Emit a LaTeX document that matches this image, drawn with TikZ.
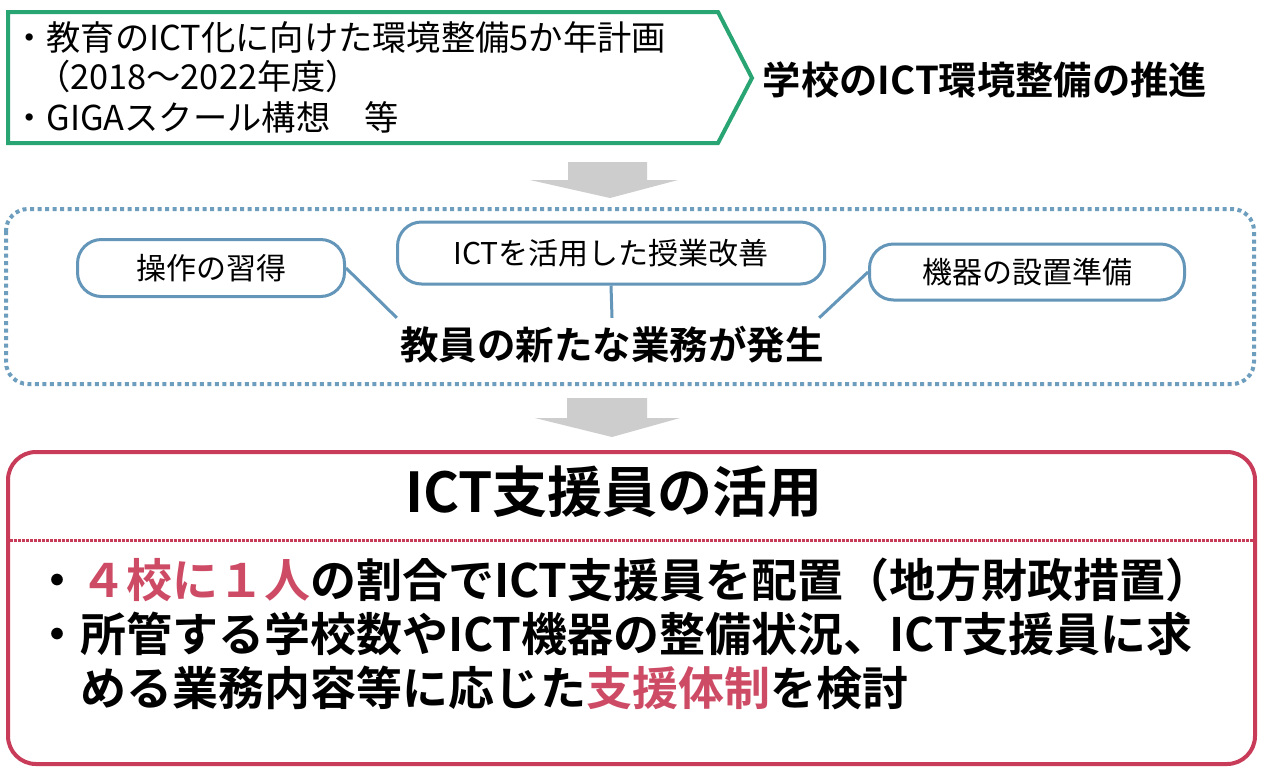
\documentclass[tikz,border=0pt]{standalone}
\usepackage{fontspec}
\setmainfont{Noto Sans CJK JP}[BoldFont={* Bold}]
\usetikzlibrary{calc}
\definecolor{grn}{RGB}{40,165,115}
\definecolor{blu}{RGB}{110,158,190}
\definecolor{blu2}{RGB}{100,150,185}
\definecolor{crim}{RGB}{200,60,90}
\definecolor{redtxt}{RGB}{205,75,100}
\definecolor{arrgray}{RGB}{205,205,205}
\tikzset{
  oval/.style={draw=blu2, line width=3pt, rounded corners=24pt, inner sep=0pt, font=\fontsize{30}{35}\selectfont},
  plain/.style={inner sep=0pt, anchor=west, font=\fontsize{34.3}{40}\selectfont},
  bul/.style={inner sep=0pt, anchor=west, font=\bfseries\fontsize{46}{52}\selectfont},
  bigarrow/.style={fill=arrgray, draw=none},
  link/.style={draw=blu2, line width=3pt}
}
\begin{document}
\begin{tikzpicture}[x=1pt,y=-1pt]
\useasboundingbox (0,0) rectangle (1263,772);
\fill[white] (0,0) rectangle (1263,772);

% top pentagon
\draw[grn, line width=4pt, line join=miter] (8,12) -- (718,12) -- (752,78) -- (718,143) -- (8,143) -- cycle;
\node[plain] (l1) at (12,37) {・教育のICT化に向けた環境整備5か年計画};
\node[plain] (l2) at (36,76) {（2018〜2022年度）};
\node[plain] (l3) at (12,117) {・GIGAスクール構想　等};
\node[inner sep=0pt, font=\bfseries\fontsize{38.3}{44}\selectfont] (promo) at (985,80) {学校のICT環境整備の推進};

% arrow 1
\path[bigarrow] (568,162) -- (647,162) -- (647,180) -- (678,180) -- (610,198) -- (530,180) -- (568,180) -- cycle;

% dotted box
\draw[blu, line width=4pt, dash pattern=on 4pt off 3.5pt, rounded corners=22pt] (6,209) rectangle (1254,384);

\node[oval, minimum width=267pt, minimum height=57pt] (op) at (211,268) {操作の習得};
\node[oval, minimum width=427pt, minimum height=62pt] (ict) at (611,253) {ICTを活用した授業改善};
\node[oval, minimum width=315pt, minimum height=56pt] (kiki) at (1027,272) {機器の設置準備};
\node[inner sep=0pt, minimum width=430pt, minimum height=54pt, font=\bfseries\fontsize{38.5}{44}\selectfont] (main) at (612,345) {教員の新たな業務が発生};
\draw[link] (op.east) -- (main.north west);
\draw[link] (ict.south) -- (main.north);
\draw[link] (kiki.west) -- ($(main.north east)+(-8,0)$);

% arrow 2
\path[bigarrow] (567,398) -- (647,398) -- (647,418) -- (680,418) -- (612,437) -- (535,418) -- (567,418) -- cycle;

% red box
\draw[crim, line width=4pt, rounded corners=28pt] (8,452) rectangle (1255,764);
\node[inner sep=0pt, font=\bfseries\fontsize{55}{61}\selectfont] (title) at (614,492) {ICT支援員の活用};
\coordinate (dl) at (10,540);
\coordinate (dr) at (1253,540);
\draw[crim, line width=3pt, dash pattern=on 2.5pt off 1.5pt] (dl) -- (dr);
\node[bul] (b1) at (34,580) {・\textcolor{redtxt}{４校に１人}の割合でICT支援員を配置（地方財政措置）};
\node[bul] (b2) at (34,634) {・所管する学校数やICT機器の整備状況、ICT支援員に求};
\node[bul] (b3) at (34,688) {　める業務内容等に応じた\textcolor{redtxt}{支援体制}を検討};
\end{tikzpicture}
\end{document}
